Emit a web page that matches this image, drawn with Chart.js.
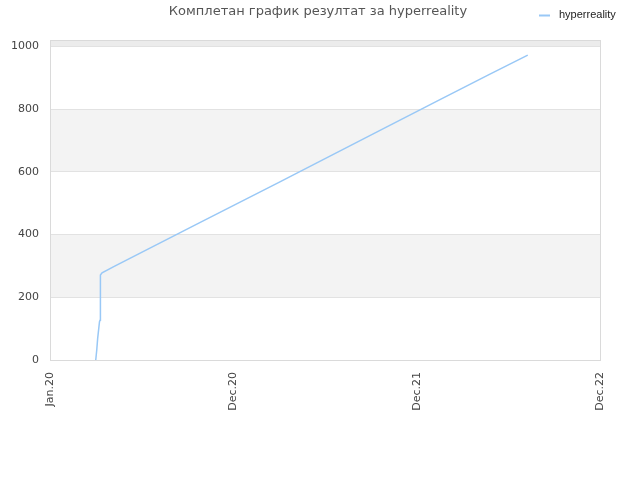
<!DOCTYPE html>
<html>
<head>
<meta charset="utf-8">
<script src="https://cdn.jsdelivr.net/npm/chart.js@4"></script>
<style>
  html, body { margin: 0; padding: 0; background: #fff; }
  #wrap { width: 640px; height: 480px; }
</style>
</head>
<body>
<div id="wrap"><canvas id="myChart" width="640" height="480"></canvas></div>
<script>
// values
const chartTitle = 'Комплетан график резултат за hyperreality';
const seriesName = 'hyperreality';
const xTickValues = [0, 1, 2, 3];
const xTickLabels = ['Jan.20', 'Dec.20', 'Dec.21', 'Dec.22'];
const yTickValues = [0, 200, 400, 600, 800, 1000];
// x is in axis-label units (0 = Jan.20, 3 = Dec.22)
const pointX = [0.2495, 0.255, 0.260, 0.266, 0.270, 0.273, 0.275, 0.284, 0.353, 0.817, 1.254, 1.800, 2.127, 2.389, 2.606];
const pointY = [0, 32, 69, 101, 122, 127, 271, 278, 299, 438, 568, 732, 830, 908, 972];
const bands = [[200, 400], [600, 800], [1000, 1020]];

const lineColor = '#99c8f6';

// alternating grey bands and the frame round the plot
const bandPlugin = {
  id: 'bands',
  beforeDraw(chart) {
    const { ctx, chartArea: a, scales: { y } } = chart;
    ctx.save();
    bands.forEach(([lo, hi], i) => {
      const top = y.getPixelForValue(hi);
      const bot = y.getPixelForValue(lo);
      ctx.fillStyle = i === bands.length - 1 ? '#ececec' : '#f3f3f3';
      ctx.fillRect(a.left, top, a.right - a.left, bot - top);
    });
    ctx.restore();
  },
  afterDraw(chart) {
    const { ctx, chartArea: a } = chart;
    ctx.save();
    ctx.strokeStyle = '#dadada';
    ctx.lineWidth = 1;
    ctx.strokeRect(Math.round(a.left) + 0.5, Math.round(a.top) + 0.5,
      Math.round(a.right - a.left), Math.round(a.bottom - a.top));

    // title and legend share one row
    ctx.fillStyle = '#555';
    ctx.font = '13px "DejaVu Sans"';
    ctx.textAlign = 'center';
    ctx.textBaseline = 'middle';
    ctx.fillText(chartTitle, 318, 12);

    ctx.strokeStyle = lineColor;
    ctx.lineWidth = 2;
    ctx.beginPath();
    ctx.moveTo(539, 15.5);
    ctx.lineTo(550, 15.5);
    ctx.stroke();
    ctx.fillStyle = '#222';
    ctx.font = '11px "Liberation Sans"';
    ctx.textAlign = 'left';
    ctx.fillText(seriesName, 559, 15);
    ctx.restore();
  }
};

const ctx = document.getElementById('myChart');

new Chart(ctx.getContext('2d'), {
  type: 'line',
  data: {
    datasets: [{
      label: seriesName,
      data: pointX.map((x, i) => ({ x: x, y: pointY[i] })),
      borderColor: lineColor,
      backgroundColor: lineColor,
      borderWidth: 1.5,
      pointRadius: 0,
      fill: false,
      tension: 0
    }]
  },
  options: {
    responsive: false,
    animation: false,
    layout: { padding: { top: 40, right: 40, left: 0, bottom: 0 } },
    plugins: {
      legend: { display: false },
      title: { display: false },
      tooltip: { enabled: false }
    },
    scales: {
      x: {
        type: 'linear',
        min: 0,
        max: 3,
        afterBuildTicks(scale) { scale.ticks = xTickValues.map(v => ({ value: v })); },
        afterFit(scale) { scale.height = 120; },
        grid: { display: false, drawTicks: false },
        border: { display: false },
        ticks: {
          minRotation: 90,
          maxRotation: 90,
          padding: 12,
          color: '#444',
          font: { family: 'DejaVu Sans', size: 11 },
          callback: (v) => xTickLabels[xTickValues.indexOf(v)]
        }
      },
      y: {
        min: 0,
        max: 1020,
        afterBuildTicks(scale) { scale.ticks = yTickValues.map(v => ({ value: v })); },
        afterFit(scale) { scale.width = 50; },
        grid: { color: '#e2e2e2', drawTicks: false },
        border: { display: false },
        ticks: {
          padding: 11,
          color: '#444',
          font: { family: 'DejaVu Sans', size: 11 },
          callback: (v) => String(v)
        }
      }
    }
  },
  plugins: [bandPlugin]
});
</script>
</body>
</html>
